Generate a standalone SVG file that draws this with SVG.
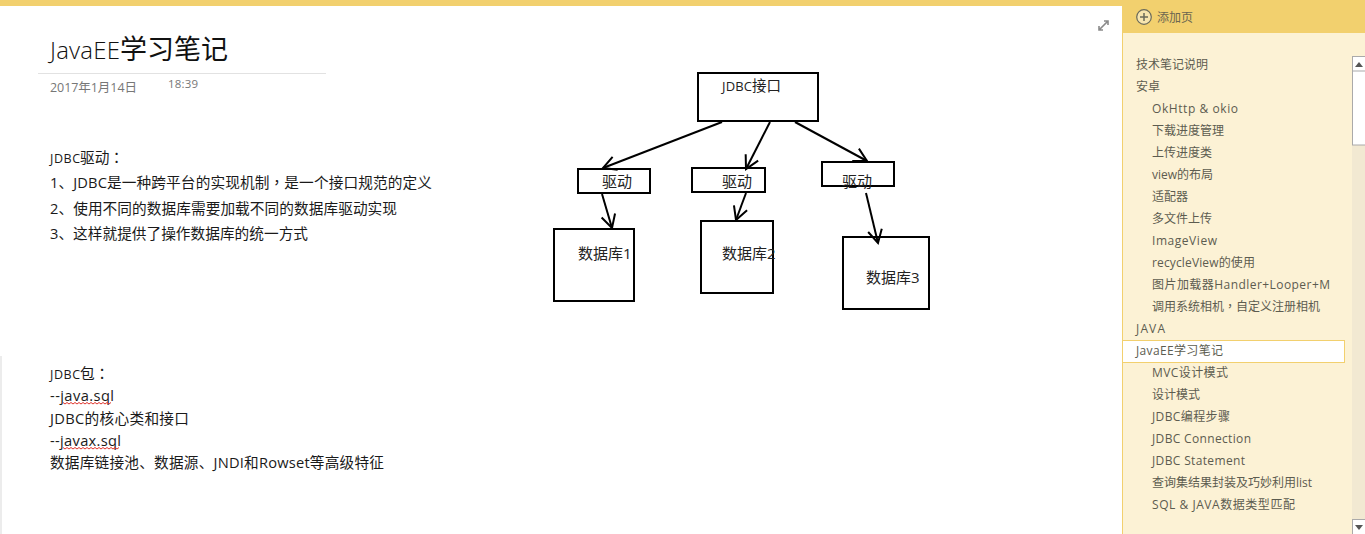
<svg xmlns="http://www.w3.org/2000/svg" width="1365" height="534" viewBox="0 0 1365 534">
<style>
text{font-family:"Open Sans","Noto Sans CJK SC",sans-serif;fill:#1a1a1a}
.b{font-size:14.67px}
.l{font-size:12.5px}
.n{font-size:15px;fill:#222}
.p{font-size:12px;fill:#5c5c50}
.tc{font-family:"Noto Sans CJK TC",sans-serif}
.box{fill:none;stroke:#000;stroke-width:2}
.c{fill:none;stroke:#000;stroke-width:2}
.r{fill:none;stroke:#e0342c;stroke-width:1}
</style>
<defs>
<marker id="a" viewBox="0 0 18 18" refX="16" refY="9" markerWidth="18" markerHeight="18" markerUnits="userSpaceOnUse" orient="auto"><path d="M3 2L16 9L3 16" fill="none" stroke="#000" stroke-width="2"/></marker>
</defs>
<rect width="1365" height="534" fill="#fff"/>
<rect x="0" y="0" width="1365" height="6" fill="#f2d06e"/>
<rect x="0" y="356" width="2" height="178" fill="#ececec"/>
<g id="page-header">
<text x="50" y="59" font-size="27" style="fill:#111"><tspan font-size="24" font-weight="300" textLength="70">JavaEE</tspan><tspan x="120">学习笔记</tspan></text>
<rect x="38" y="73" width="288" height="1" fill="#e2e2e2"/>
<text x="50" y="92" font-size="12.5" style="fill:#777" textLength="87">2017年1月14日</text>
<text x="168" y="88" font-size="11.5" style="fill:#777" textLength="30">18:39</text>
</g>
<g id="notes-top">
<text x="50" y="163" class="b"><tspan class="l" textLength="30">JDBC</tspan><tspan x="80">驱动</tspan><tspan class="tc">：</tspan></text>
<text x="50" y="188" class="b" textLength="382">1、JDBC是一种跨平台的实现机制<tspan class="tc">，</tspan>是一个接口规范的定义</text>
<text x="50" y="214" class="b" textLength="347">2、使用不同的数据库需要加载不同的数据库驱动实现</text>
<text x="50" y="239" class="b" textLength="258">3、这样就提供了操作数据库的统一方式</text>
</g>
<g id="notes-bottom">
<text x="50" y="379" class="b"><tspan class="l" textLength="30">JDBC</tspan><tspan x="80">包</tspan><tspan class="tc">：</tspan></text>
<text x="50" y="401" class="b" textLength="64">--java.sql</text>
<path class="r" d="M63 402.500l2 1.500 2-1.500 2 1.500 2-1.500 2 1.500 2-1.500 2 1.500 2-1.500 2 1.500 2-1.500 2 1.500 2-1.500 2 1.500 2-1.500 2 1.500 2-1.500 2 1.500 2-1.500 2 1.500 2-1.500 2 1.500 2-1.500 2 1.500 2-1.500"/>
<text x="50" y="424" class="b" textLength="139">JDBC的核心类和接口</text>
<text x="50" y="446" class="b" textLength="71">--javax.sql</text>
<path class="r" d="M63 447.500l2 1.500 2-1.500 2 1.500 2-1.500 2 1.500 2-1.500 2 1.500 2-1.500 2 1.500 2-1.500 2 1.500 2-1.500 2 1.500 2-1.500 2 1.500 2-1.500 2 1.500 2-1.500 2 1.500 2-1.500 2 1.500 2-1.500 2 1.500 2-1.500 2 1.500 2-1.500 2 1.500 2-1.500"/>
<text x="50" y="468" class="b" textLength="334">数据库链接池、数据源、JNDI和Rowset等高级特征</text>
</g>
<g id="connectors">
<path class="c" marker-end="url(#a)" d="M722 122L603 168"/>
<path class="c" marker-end="url(#a)" d="M770 122L746 169"/>
<path class="c" marker-end="url(#a)" d="M795 122L867 161"/>
<path class="c" marker-end="url(#a)" d="M602 194L612 228"/>
<path class="c" marker-end="url(#a)" d="M746 193L736 220"/>
<path class="c" marker-end="url(#a)" d="M866 193L878 243"/>
</g>
<g id="jdbc"><rect class="box" x="698" y="73" width="120" height="48"/><text x="722" y="91" class="n"><tspan font-size="13" textLength="30">JDBC</tspan><tspan x="752" font-size="14.500">接口</tspan></text></g>
<g id="driver1"><rect class="box" x="578" y="169" width="72" height="24"/><text x="602" y="187" class="n">驱动</text></g>
<g id="driver2"><rect class="box" x="692" y="168" width="73" height="24"/><text x="722" y="187" class="n">驱动</text></g>
<g id="driver3"><rect class="box" x="822" y="162" width="72" height="24"/><text x="842" y="187" class="n">驱动</text></g>
<g id="db1"><rect class="box" x="554" y="229" width="80" height="72"/><text x="578" y="259" class="n">数据库1</text></g>
<g id="db2"><rect class="box" x="701" y="221" width="72" height="72"/><text x="722" y="259" class="n">数据库2</text></g>
<g id="db3"><rect class="box" x="843" y="237" width="86" height="72"/><text x="866" y="283" class="n">数据库3</text></g>
<g id="expand"><path d="M1099 30L1108 21M1104 21H1108V25M1099 26V30H1103" fill="none" stroke="#8a8a8a" stroke-width="1.6"/></g>
<g id="sidebar">
<rect x="1122" y="6" width="243" height="528" fill="#fcf2d5"/>
<rect x="1122" y="6" width="1" height="528" fill="#f2d06e"/>
<rect x="1122" y="0" width="243" height="33" fill="#f2d06e"/>
<circle cx="1144" cy="17" r="7.300" fill="#f7e5ae" stroke="#6a6a5a" stroke-width="1.200"/>
<path d="M1140 17H1148M1144 13V21" stroke="#6a6a5a" stroke-width="1.500"/>
<text x="1157" y="22" class="p" style="fill:#6b6650">添加页</text>
<rect x="1352" y="56" width="13" height="478" fill="#f2e9d2"/>
<rect x="1352.500" y="56.500" width="13" height="15" fill="#fff" stroke="#aaa"/>
<rect x="1352.500" y="71" width="13" height="74" fill="#fff" stroke="#aaa"/>
<path d="M1355 67L1359 62L1363 67Z" fill="#555"/>
<rect x="1352.500" y="519.500" width="13" height="15" fill="#fff" stroke="#aaa"/>
<path d="M1355 525L1359 530L1363 525Z" fill="#555"/>
<rect x="1122.500" y="340.500" width="222" height="22" fill="#fff" stroke="#f2d06e"/>
<text x="1136" y="69" class="p">技术笔记说明</text>
<text x="1136" y="91" class="p">安卓</text>
<text x="1152" y="113" class="p" textLength="86">OkHttp &amp; okio</text>
<text x="1152" y="135" class="p">下载进度管理</text>
<text x="1152" y="157" class="p">上传进度类</text>
<text x="1152" y="179" class="p" textLength="61">view的布局</text>
<text x="1152" y="201" class="p">适配器</text>
<text x="1152" y="223" class="p">多文件上传</text>
<text x="1152" y="245" class="p" textLength="65">ImageView</text>
<text x="1152" y="267" class="p" textLength="103">recycleView的使用</text>
<text x="1152" y="289" class="p" textLength="178">图片加载器Handler+Looper+M</text>
<text x="1152" y="311" class="p">调用系统相机<tspan class="tc">，</tspan>自定义注册相机</text>
<text x="1136" y="333" class="p" textLength="29">JAVA</text>
<text x="1136" y="355" class="p" textLength="87">JavaEE学习笔记</text>
<text x="1152" y="377" class="p" textLength="76">MVC设计模式</text>
<text x="1152" y="399" class="p">设计模式</text>
<text x="1152" y="421" class="p" textLength="78">JDBC编程步骤</text>
<text x="1152" y="443" class="p" textLength="99">JDBC Connection</text>
<text x="1152" y="465" class="p" textLength="93">JDBC Statement</text>
<text x="1152" y="487" class="p" textLength="160">查询集结果封装及巧妙利用list</text>
<text x="1152" y="509" class="p" textLength="143">SQL &amp; JAVA数据类型匹配</text>
</g>
</svg>
